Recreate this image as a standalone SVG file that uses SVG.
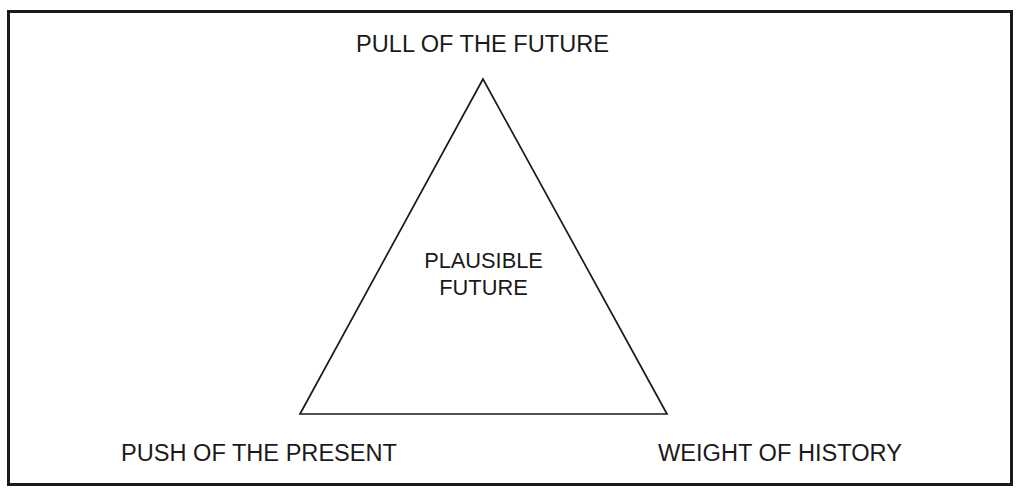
<svg xmlns="http://www.w3.org/2000/svg" width="1024" height="497" viewBox="0 0 1024 497">
<style>
text{font-family:"Liberation Sans",Arial,sans-serif;fill:#1a1a1a}
.lbl{font-size:23px}
.ctr{font-size:21.8px;text-anchor:middle}
</style>
<rect width="1024" height="497" fill="#ffffff"/>
<rect id="frame" x="8.5" y="11.5" width="1003" height="473" fill="none" stroke="#1a1a1a" stroke-width="3"/>
<g id="connectors">
<polygon points="483,79 300,414 667,414" fill="none" stroke="#1a1a1a" stroke-width="1.7" stroke-linejoin="miter"/>
</g>
<g id="pull"><text class="lbl" x="356" y="52" textLength="253" lengthAdjust="spacingAndGlyphs">PULL OF THE FUTURE</text></g>
<g id="push"><text class="lbl" x="121" y="461" textLength="276" lengthAdjust="spacingAndGlyphs">PUSH OF THE PRESENT</text></g>
<g id="weight"><text class="lbl" x="658" y="461" textLength="244" lengthAdjust="spacingAndGlyphs">WEIGHT OF HISTORY</text></g>
<g id="plausible"><text class="ctr" x="483.5" y="268">PLAUSIBLE</text><text class="ctr" x="483.5" y="295">FUTURE</text></g>
</svg>
